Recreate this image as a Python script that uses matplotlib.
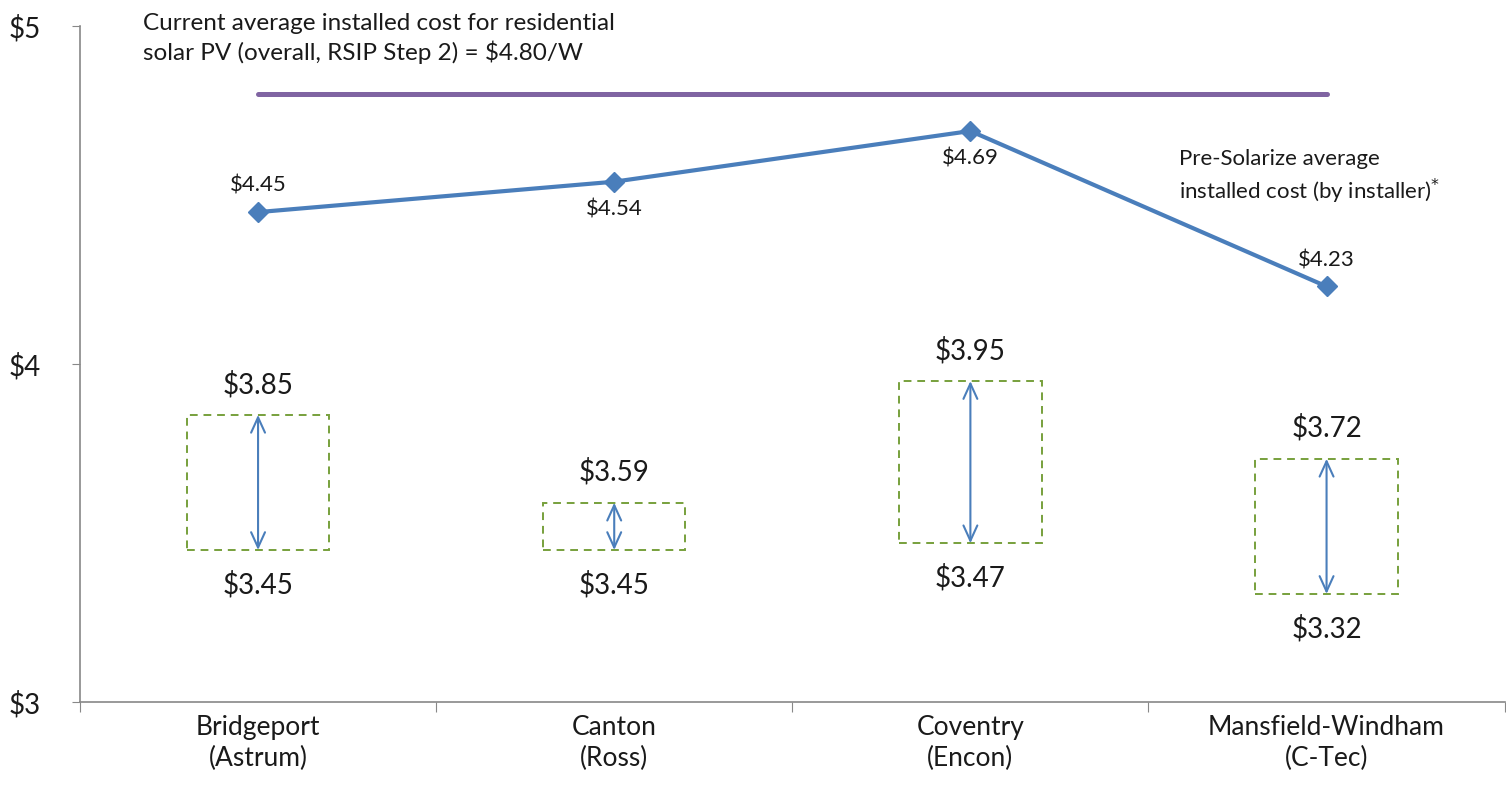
import matplotlib
matplotlib.use("Agg")
import matplotlib.pyplot as plt
from matplotlib.patches import Rectangle
from matplotlib.ticker import FixedLocator, FuncFormatter

plt.rcParams["font.family"] = ["Lato", "DejaVu Sans"]

towns = ["Bridgeport\n(Astrum)", "Canton\n(Ross)", "Coventry\n(Encon)", "Mansfield-Windham\n(C-Tec)"]
pre_solarize = [4.45, 4.54, 4.69, 4.23]
price_low = [3.45, 3.45, 3.47, 3.32]
price_high = [3.85, 3.59, 3.95, 3.72]
rsip_avg = 4.80

BLUE = "#4A7EBB"
PURPLE = "#8064A2"
GREEN = "#77A03C"
AXIS = "#888888"
TEXT = "#1a1a1a"

fig = plt.figure(figsize=(15.06, 7.96), dpi=100)
ax = fig.add_axes([0.0531, 0.118, 0.946, 0.849])

x = list(range(1, len(towns) + 1))

# statewide average reference line
ax.plot([x[0], x[-1]], [rsip_avg, rsip_avg], color=PURPLE, lw=3.6, solid_capstyle="round", zorder=2)

# pre-Solarize installer averages
ax.plot(x, pre_solarize, color=BLUE, lw=3, marker="D", ms=10, zorder=3)
label_above = [True, False, False, True]
for xi, v, up in zip(x, pre_solarize, label_above):
    ax.annotate(f"\\${v:.2f}", (xi, v), xytext=(0, 19 if up else -20), textcoords="offset points",
                ha="center", va="center", fontsize=16, color=TEXT)

# Solarize price ranges
box_w = 0.4
for xi, lo, hi in zip(x, price_low, price_high):
    ax.add_patch(Rectangle((xi - box_w / 2, lo), box_w, hi - lo, fill=False,
                           edgecolor=GREEN, lw=1.4, ls=(0, (4, 3)), zorder=2))
    ax.annotate("", xy=(xi, hi), xytext=(xi, lo),
                arrowprops=dict(arrowstyle="<->,head_length=1.1,head_width=0.5",
                                color=BLUE, lw=1.5, shrinkA=0, shrinkB=0), zorder=3)
    ax.annotate(f"\\${hi:.2f}", (xi, hi), xytext=(0, 22), textcoords="offset points",
                ha="center", va="center", fontsize=20, color=TEXT)
    ax.annotate(f"\\${lo:.2f}", (xi, lo), xytext=(0, -25), textcoords="offset points",
                ha="center", va="center", fontsize=20, color=TEXT)

ax.text(0.678, 4.963, "Current average installed cost for residential\nsolar PV (overall, RSIP Step 2) = \\$4.80/W",
        ha="left", va="center", fontsize=17.5, color=TEXT, linespacing=1.35)
ax.text(3.585, 4.552, "Pre-Solarize average\ninstalled cost (by installer)$^{*}$",
        ha="left", va="center", fontsize=16, color=TEXT, linespacing=1.35)

ax.set_xlim(0.5, 4.5)
ax.set_ylim(3, 5)

for side in ["top", "right"]:
    ax.spines[side].set_visible(False)
for side in ["left", "bottom"]:
    ax.spines[side].set_color(AXIS)
    ax.spines[side].set_linewidth(1.2)

ax.yaxis.set_major_locator(FixedLocator([3, 4, 5]))
ax.yaxis.set_major_formatter(FuncFormatter(lambda v, _: f"\\${v:.0f}"))
ax.tick_params(axis="y", length=6, color=AXIS, labelsize=20, labelcolor=TEXT, pad=22)

ax.xaxis.set_major_locator(FixedLocator([0.5, 1.5, 2.5, 3.5, 4.5]))
ax.xaxis.set_major_formatter(FuncFormatter(lambda v, _: ""))
ax.xaxis.set_minor_locator(FixedLocator(x))
ax.xaxis.set_minor_formatter(FuncFormatter(lambda v, _: towns[int(round(v)) - 1]))
ax.tick_params(axis="x", which="major", length=7, color=AXIS)
ax.tick_params(axis="x", which="minor", length=0, labelsize=19, labelcolor=TEXT, pad=9)
for lbl in ax.xaxis.get_minorticklabels():
    lbl.set_linespacing(1.3)

fig.savefig("out.png", dpi=100, facecolor="white")
